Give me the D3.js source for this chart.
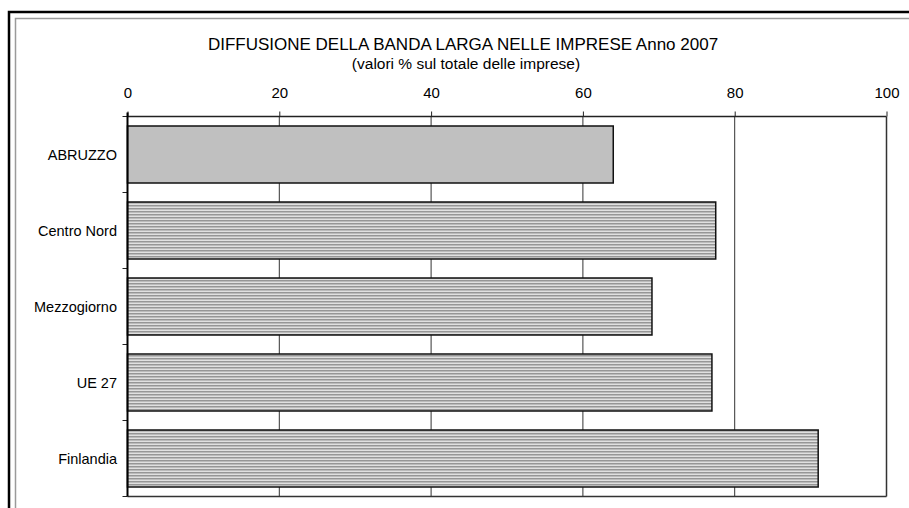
<!DOCTYPE html>
<html><head><meta charset="utf-8">
<script src="https://cdn.jsdelivr.net/npm/d3@7"></script>
<style>html,body{margin:0;padding:0;background:#fff;}svg{display:block;}</style>
</head><body>
<script>
const categories = ["ABRUZZO", "Centro Nord", "Mezzogiorno", "UE 27", "Finlandia"];
const values = [64.0, 77.5, 69.1, 77.0, 91.0];
const tickValues = [0, 20, 40, 60, 80, 100];
const title = "DIFFUSIONE DELLA BANDA LARGA NELLE IMPRESE Anno 2007";
const subtitle = "(valori % sul totale delle imprese)";

(function () {
const W = 909, H = 508;
const svg = d3.select("body").append("svg").attr("width", W).attr("height", H);
const font = "'Liberation Sans', Arial, sans-serif";

// pattern
const defs = svg.append("defs");
const pat = defs.append("pattern").attr("id", "stripes").attr("patternUnits", "userSpaceOnUse")
  .attr("width", 6).attr("height", 3);
pat.append("rect").attr("width", 6).attr("height", 3).attr("fill", "#e0e0e0");
pat.append("rect").attr("y", 1).attr("width", 6).attr("height", 1.5).attr("fill", "#969696");

// frames
svg.append("rect").attr("x", 9).attr("y", 12).attr("width", 960).attr("height", 560)
  .attr("fill", "none").attr("stroke", "#000").attr("stroke-width", 2.5);
svg.append("rect").attr("x", 15.5).attr("y", 18.5).attr("width", 950).attr("height", 550)
  .attr("fill", "none").attr("stroke", "#9a9a9a").attr("stroke-width", 1.5);

const pLeft = 127.5, pRight = 886.5, pTop = 116.5, pBottom = 496.5;
const x = d3.scaleLinear().domain([0, 100]).range([pLeft, pRight]);
const y = d3.scaleBand().domain(categories).range([pTop, pBottom]).paddingInner(0.25).paddingOuter(0.125);

svg.append("text").attr("x", 463).attr("y", 50).attr("text-anchor", "middle")
  .attr("font-family", font).attr("font-size", 17).attr("fill", "#000").text(title);
svg.append("text").attr("x", 466).attr("y", 69).attr("text-anchor", "middle")
  .attr("font-family", font).attr("font-size", 15.5).attr("fill", "#000").text(subtitle);

// gridlines
svg.append("g").selectAll("line").data(tickValues.filter(d => d > 0 && d < 100)).join("line")
  .attr("x1", d => x(d)).attr("x2", d => x(d)).attr("y1", pTop).attr("y2", pBottom)
  .attr("stroke", "#333").attr("stroke-width", 1);
svg.append("line").attr("x1", pRight).attr("x2", pRight).attr("y1", pTop).attr("y2", pBottom)
  .attr("stroke", "#333").attr("stroke-width", 1.5);
svg.append("line").attr("x1", pLeft).attr("x2", pRight).attr("y1", pBottom).attr("y2", pBottom)
  .attr("stroke", "#333").attr("stroke-width", 1.5);

// bars
svg.append("g").selectAll("rect").data(categories).join("rect")
  .attr("x", x(0)).attr("y", d => y(d))
  .attr("width", (d, i) => x(values[i]) - x(0)).attr("height", y.bandwidth())
  .attr("fill", (d, i) => i === 0 ? "#c0c0c0" : "url(#stripes)")
  .attr("stroke", "#111").attr("stroke-width", 1.5);

// top axis
const xAxis = d3.axisTop(x).tickValues(tickValues).tickSize(5).tickPadding(14).tickFormat(d3.format("d"));
const gx = svg.append("g").attr("transform", `translate(0,${pTop})`).call(xAxis);
gx.select(".domain").attr("stroke", "#222").attr("stroke-width", 1.5).attr("d", `M${pLeft},0H${pRight}`);
gx.selectAll(".tick line").attr("stroke", "#222");
gx.selectAll("text").attr("font-family", font).attr("font-size", 15).attr("fill", "#000");

// left axis
const bounds = [pTop].concat(categories.map(c => y(c) + y.bandwidth() + y.step() * y.paddingInner() / 2));
svg.append("g").selectAll("line").data(bounds).join("line")
  .attr("x1", pLeft - 5).attr("x2", pLeft).attr("y1", d => d).attr("y2", d => d)
  .attr("stroke", "#222");
svg.append("line").attr("x1", pLeft).attr("x2", pLeft).attr("y1", pTop - 4).attr("y2", pBottom)
  .attr("stroke", "#000").attr("stroke-width", 2);
svg.append("g").selectAll("text").data(categories).join("text")
  .attr("x", 117).attr("y", d => y(d) + y.bandwidth() / 2).attr("dy", "0.35em")
  .attr("text-anchor", "end").attr("font-family", font).attr("font-size", 14.5).attr("fill", "#000")
  .text(d => d);
})();
</script>
</body></html>
